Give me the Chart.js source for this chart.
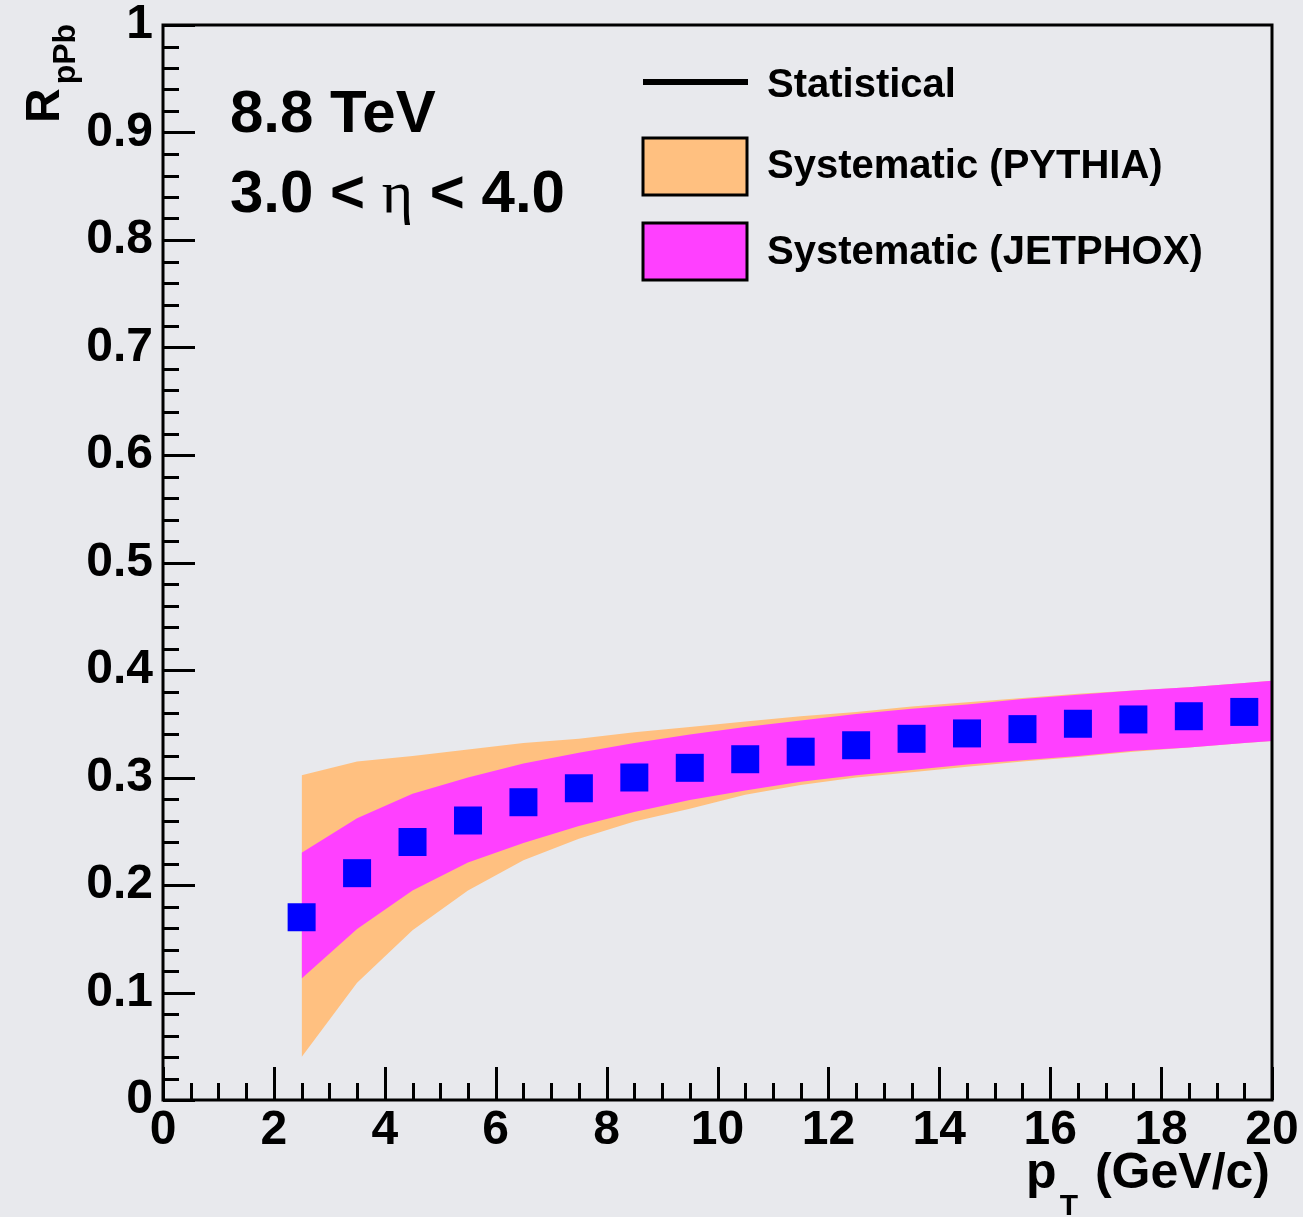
<!DOCTYPE html>
<html>
<head>
<meta charset="utf-8">
<script src="https://cdn.jsdelivr.net/npm/chart.js@4.4.0/dist/chart.umd.min.js"></script>
<style>
  html, body { margin: 0; padding: 0; background: #e8e9ed; }
  #wrap { width: 1303px; height: 1217px; }
</style>
</head>
<body>
<div id="wrap"><canvas id="rpb" width="1303" height="1217"></canvas></div>
<script>
(function () {
  "use strict";

  // pT bin centres and R_pPb values
  const ptBins = [2.5, 3.5, 4.5, 5.5, 6.5, 7.5, 8.5, 9.5, 10.5, 11.5, 12.5, 13.5, 14.5, 15.5, 16.5, 17.5, 18.5, 19.5];
  const rpPb = [0.170, 0.211, 0.240, 0.260, 0.277, 0.290, 0.300, 0.309, 0.317, 0.324, 0.330, 0.336, 0.341, 0.345, 0.350, 0.354, 0.357, 0.361];

  // systematic bands (edges), last point sits on the frame at pT = 20
  const bandPt = [2.5, 3.5, 4.5, 5.5, 6.5, 7.5, 8.5, 9.5, 10.5, 11.5, 12.5, 13.5, 14.5, 15.5, 16.5, 17.5, 18.5, 19.5, 20];
  const jetphoxHigh = [0.230, 0.262, 0.285, 0.300, 0.313, 0.323, 0.332, 0.340, 0.347, 0.353, 0.359, 0.364, 0.368, 0.373, 0.377, 0.381, 0.384, 0.388, 0.390];
  const jetphoxLow  = [0.113, 0.159, 0.195, 0.221, 0.239, 0.255, 0.268, 0.279, 0.288, 0.296, 0.302, 0.307, 0.312, 0.316, 0.320, 0.325, 0.328, 0.332, 0.334];
  const pythiaHigh  = [0.302, 0.315, 0.320, 0.326, 0.332, 0.336, 0.342, 0.347, 0.352, 0.357, 0.361, 0.366, 0.370, 0.374, 0.378, 0.381, 0.384, 0.388, 0.390];
  const pythiaLow   = [0.040, 0.109, 0.158, 0.195, 0.223, 0.243, 0.259, 0.271, 0.284, 0.293, 0.300, 0.305, 0.310, 0.315, 0.319, 0.324, 0.328, 0.332, 0.334];

  const xTicks = [0, 2, 4, 6, 8, 10, 12, 14, 16, 18, 20];
  const yTicks = [0, 0.1, 0.2, 0.3, 0.4, 0.5, 0.6, 0.7, 0.8, 0.9, 1];
  const yTickLabels = ["0", "0.1", "0.2", "0.3", "0.4", "0.5", "0.6", "0.7", "0.8", "0.9", "1"];

  const FONT = "'Liberation Sans', Arial, Helvetica, sans-serif";
  const ORANGE = "#ffc080";
  const MAGENTA = "#ff40ff";
  const BLUE = "#0000ff";

  function pts(xs, ys) {
    return xs.map((x, i) => ({ x: x, y: ys[i] }));
  }

  function band(label, ys, color, order, fill) {
    return {
      label: label,
      data: pts(bandPt, ys),
      borderWidth: 0,
      pointRadius: 0,
      tension: 0,
      backgroundColor: color,
      borderColor: color,
      fill: fill,
      order: order
    };
  }

  const bgPlugin = {
    id: "bg",
    beforeDraw(chart) {
      const ctx = chart.ctx;
      ctx.save();
      ctx.fillStyle = "#e8e9ed";
      ctx.fillRect(0, 0, chart.width, chart.height);
      ctx.restore();
    }
  };

  // ROOT style frame with inward ticks
  const framePlugin = {
    id: "frame",
    afterDatasetsDraw(chart) {
      const ctx = chart.ctx;
      const a = chart.chartArea;
      const xs = chart.scales.x;
      const ys = chart.scales.y;
      ctx.save();
      ctx.strokeStyle = "#000";
      ctx.lineWidth = 3;
      ctx.strokeRect(a.left, a.top, a.right - a.left, a.bottom - a.top);
      ctx.beginPath();
      for (let i = 0; i <= 40; i++) {
        const v = i * 0.5;
        const px = Math.round(xs.getPixelForValue(v)) + 0.5;
        const len = (i % 4 === 0) ? 33 : 17;
        ctx.moveTo(px, a.bottom);
        ctx.lineTo(px, a.bottom - len);
      }
      for (let i = 0; i <= 50; i++) {
        const v = i * 0.02;
        const py = Math.round(ys.getPixelForValue(v)) + 0.5;
        const len = (i % 5 === 0) ? 32 : 16;
        ctx.moveTo(a.left, py);
        ctx.lineTo(a.left + len, py);
      }
      ctx.stroke();
      ctx.restore();
    }
  };

  const textPlugin = {
    id: "texts",
    afterDraw(chart) {
      const ctx = chart.ctx;
      ctx.save();
      ctx.fillStyle = "#000";
      ctx.textBaseline = "alphabetic";
      ctx.textAlign = "left";

      // energy and rapidity
      ctx.font = "bold 60px " + FONT;
      ctx.fillText("8.8 TeV", 230, 132);
      let x = 230;
      const parts = [
        ["3.0 < ", "bold 60px " + FONT],
        ["\u03b7", "60px 'Liberation Serif', 'DejaVu Serif', serif"],
        [" < 4.0", "bold 60px " + FONT]
      ];
      parts.forEach(p => {
        ctx.font = p[1];
        ctx.fillText(p[0], x, 212);
        x += ctx.measureText(p[0]).width;
      });

      // y title R_pPb (rotated)
      ctx.save();
      ctx.translate(59, 123);
      ctx.rotate(-Math.PI / 2);
      ctx.font = "bold 48px " + FONT;
      ctx.fillText("R", 0, 0);
      const wR = ctx.measureText("R").width;
      ctx.font = "bold 32px " + FONT;
      ctx.fillText("pPb", wR + 4, 16);
      ctx.restore();

      // x title p_T (GeV/c), right aligned to the axis end
      const right = chart.chartArea.right;
      ctx.font = "bold 50px " + FONT;
      const wp = ctx.measureText("p").width;
      const wG = ctx.measureText("(GeV/c)").width;
      ctx.font = "bold 30px " + FONT;
      const wT = ctx.measureText("T").width;
      const x0 = right - 2 - (wp + wT + 20 + wG);
      ctx.font = "bold 50px " + FONT;
      ctx.fillText("p", x0, 1188);
      ctx.fillText("(GeV/c)", x0 + wp + wT + 20, 1188);
      ctx.font = "bold 30px " + FONT;
      ctx.fillText("T", x0 + wp + 3, 1215);

      // legend
      ctx.font = "bold 40px " + FONT;
      ctx.textBaseline = "middle";
      const ds = chart.data.datasets;
      ctx.strokeStyle = "#000";
      ctx.lineWidth = 6;
      ctx.beginPath();
      ctx.moveTo(643, 82);
      ctx.lineTo(748, 82);
      ctx.stroke();
      ctx.fillText(ds[0].label, 767, 86);

      ctx.lineWidth = 3;
      ctx.fillStyle = ORANGE;
      ctx.fillRect(643, 138, 104, 57);
      ctx.strokeRect(643, 138, 104, 57);
      ctx.fillStyle = "#000";
      ctx.fillText(ds[3].label, 767, 167);

      ctx.fillStyle = MAGENTA;
      ctx.fillRect(643, 223, 104, 57);
      ctx.strokeRect(643, 223, 104, 57);
      ctx.fillStyle = "#000";
      ctx.fillText(ds[1].label, 767, 253);
      ctx.restore();
    }
  };

  const tickFont = { family: FONT, size: 48, weight: "bold", lineHeight: 1 };

  new Chart(document.getElementById("rpb").getContext("2d"), {
    type: "line",
    data: {
      datasets: [
        {
          label: "Statistical",
          data: pts(ptBins, rpPb),
          showLine: false,
          pointStyle: "rect",
          pointRadius: 19.8,
          pointBorderWidth: 0,
          pointBackgroundColor: BLUE,
          pointBorderColor: BLUE,
          order: 0
        },
        band("Systematic (JETPHOX)", jetphoxHigh, MAGENTA, 1, "+1"),
        band("JETPHOX low", jetphoxLow, MAGENTA, 1, false),
        band("Systematic (PYTHIA)", pythiaHigh, ORANGE, 2, "+1"),
        band("PYTHIA low", pythiaLow, ORANGE, 2, false)
      ]
    },
    options: {
      responsive: false,
      animation: false,
      events: [],
      layout: { padding: { left: 0, right: 31, top: 25, bottom: 0 } },
      plugins: {
        legend: { display: false },
        tooltip: { enabled: false },
        filler: { propagate: false }
      },
      scales: {
        x: {
          type: "linear",
          min: 0,
          max: 20,
          grid: { display: false, drawTicks: false },
          border: { display: false },
          afterBuildTicks: s => { s.ticks = xTicks.map(v => ({ value: v })); },
          afterFit: s => { s.height = 117; s.paddingLeft = 0; s.paddingRight = 0; },
          ticks: {
            color: "#000",
            font: tickFont,
            padding: 7,
            maxRotation: 0,
            autoSkip: false,
            callback: v => String(v)
          }
        },
        y: {
          type: "linear",
          min: 0,
          max: 1,
          grid: { display: false, drawTicks: false },
          border: { display: false },
          afterBuildTicks: s => { s.ticks = yTicks.map(v => ({ value: v })); },
          afterFit: s => { s.width = 163; s.paddingTop = 0; s.paddingBottom = 0; },
          ticks: {
            color: "#000",
            font: tickFont,
            padding: 10,
            autoSkip: false,
            callback: (v, i) => yTickLabels[i]
          }
        }
      }
    },
    plugins: [bgPlugin, framePlugin, textPlugin]
  });
})();
</script>
</body>
</html>
